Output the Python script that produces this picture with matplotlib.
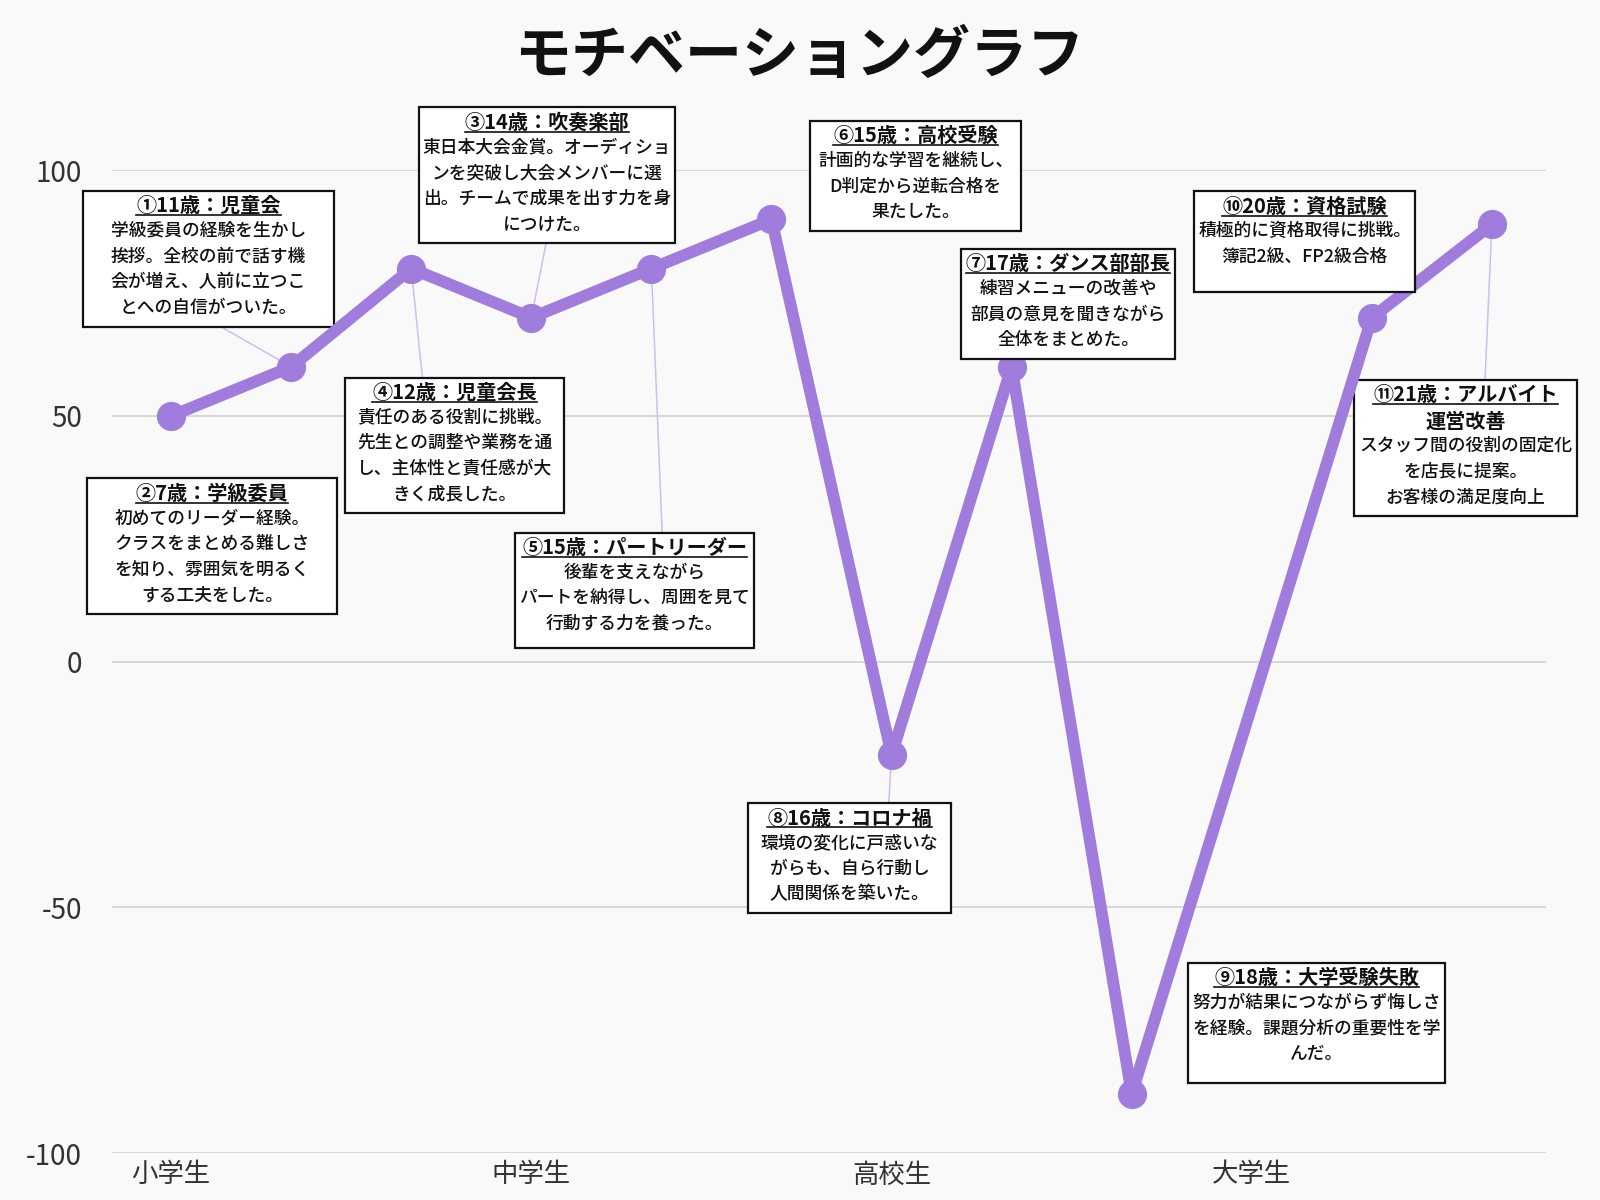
import matplotlib
matplotlib.use("Agg")
import matplotlib.pyplot as plt
from matplotlib.offsetbox import AnnotationBbox, TextArea, VPacker, DrawingArea
from matplotlib.lines import Line2D

plt.rcParams['font.family'] = ['Noto Sans CJK JP', 'DejaVu Sans']

# --- data ---
slots = [0, 1, 2, 3, 4, 5, 6, 7, 8, 10, 11]
motivation = [50, 60, 80, 70, 80, 90, -19, 60, -88, 70, 89]

stage_ticks = [0, 3, 6, 9]
stage_labels = ['小学生', '中学生', '高校生', '大学生']

y_ticks = [-100, -50, 0, 50, 100]

titles = [
    '①11歳：児童会', '②7歳：学級委員', '③14歳：吹奏楽部', '④12歳：児童会長',
    '⑤15歳：パートリーダー', '⑥15歳：高校受験', '⑦17歳：ダンス部部長',
    '⑧16歳：コロナ禍', '⑨18歳：大学受験失敗', '⑩20歳：資格試験',
    '⑪21歳：アルバイト',
]
subtitles = [None] * 10 + ['運営改善']
bodies = [
    '学級委員の経験を生かし\n挨拶。全校の前で話す機\n会が増え、人前に立つこ\nとへの自信がついた。',
    '初めてのリーダー経験。\nクラスをまとめる難しさ\nを知り、雰囲気を明るく\nする工夫をした。',
    '東日本大会金賞。オーディショ\nンを突破し大会メンバーに選\n出。チームで成果を出す力を身\nにつけた。',
    '責任のある役割に挑戦。\n先生との調整や業務を通\nし、主体性と責任感が大\nきく成長した。',
    '後輩を支えながら\nパートを納得し、周囲を見て\n行動する力を養った。',
    '計画的な学習を継続し、\nD判定から逆転合格を\n果たした。',
    '練習メニューの改善や\n部員の意見を聞きながら\n全体をまとめた。',
    '環境の変化に戸惑いな\nがらも、自ら行動し\n人間関係を築いた。',
    '努力が結果につながらず悔しさ\nを経験。課題分析の重要性を学\nんだ。',
    '積極的に資格取得に挑戦。\n簿記2級、FP2級合格',
    'スタッフ間の役割の固定化\nを店長に提案。\nお客様の満足度向上',
]
# which point each note refers to
note_point = [1, 0, 3, 2, 4, 5, 7, 6, 8, 9, 10]

# --- layout of the note boxes (centre in data units, width in px) ---
box_centre = [(0.31, 82), (0.34, 23.5), (3.13, 99), (2.36, 44), (3.86, 14.5),
              (6.2, 98.8), (7.47, 72.8), (5.65, -40), (9.54, -73.5),
              (9.44, 85.5), (10.78, 43.5)]
box_width = [250, 248, 248, 219, 230, 211, 214, 203, 240, 209, 223]
box_extra_h = [0, 0, 0, 0, 6, 0, 0, 0, 10, 16, 0]
# connector start on box edge (relpos); None = no connector
connector = [(0.52, 0), None, (0.5, 0), (0.35, 1), (0.62, 1), None, None,
             (0.70, 1), None, None, (0.59, 1)]

line_color = '#a07cdc'
conn_color = '#cdbdf0'
bg = '#f9f9fa'

fig = plt.figure(figsize=(16, 12), dpi=100, facecolor=bg)
ax = fig.add_axes([0.0702, 0.0391, 0.896, 0.819])
ax.set_facecolor(bg)

ax.plot(slots, motivation, color=line_color, lw=8.5, marker='o', ms=20,
        solid_joinstyle='round', solid_capstyle='round', zorder=3)

ax.set_xlim(-0.49, 11.45)
ax.set_ylim(-100, 100)
ax.set_yticks(y_ticks)
ax.set_yticklabels([str(v) for v in y_ticks], fontsize=20, color='#333333')
ax.set_xticks(stage_ticks)
ax.set_xticklabels(stage_labels, fontsize=19, color='#333333')
ax.tick_params(axis='both', length=0)
ax.tick_params(axis='y', pad=22)
ax.tick_params(axis='x', pad=6)
ax.grid(axis='y', color='#d8d8d8', lw=1.4)
for s in ax.spines.values():
    s.set_visible(False)

fig.text(0.5, 0.953, 'モチベーショングラフ', ha='center', va='center',
         fontsize=41, fontweight='bold', color='#111111')

title_areas = []
scale = 1600 / 1568
for i in range(len(titles)):
    t_area = TextArea(titles[i], textprops=dict(fontsize=14.5, fontweight='bold', color='#111111'))
    title_areas.append(t_area)
    kids = [t_area]
    if subtitles[i]:
        kids.append(TextArea(subtitles[i], textprops=dict(fontsize=14.5, fontweight='bold', color='#111111')))
    kids.append(TextArea(bodies[i], textprops=dict(fontsize=12.8, color='#111111',
                                                      fontweight='medium',
                                                      ha='center', multialignment='center',
                                                      linespacing=1.55)))
    w_pt = (box_width[i] * scale - 12) * 0.72
    kids.append(DrawingArea(w_pt, box_extra_h[i] * 0.72))
    pack = VPacker(children=kids, align='center', pad=0, sep=4)
    arrow = None
    if connector[i] is not None:
        arrow = dict(arrowstyle='-', color=conn_color, lw=1.1,
                     relpos=connector[i], shrinkA=0, shrinkB=0)
    p = note_point[i]
    ab = AnnotationBbox(pack, (slots[p], motivation[p]), xybox=box_centre[i],
                        xycoords='data', boxcoords='data', box_alignment=(0.5, 0.5),
                        frameon=True, pad=0.45,
                        bboxprops=dict(boxstyle='square', facecolor='white',
                                       edgecolor='#111111', linewidth=1.6),
                        arrowprops=arrow, zorder=4 if arrow is None else 2)
    ab.set_clip_on(False)
    ax.add_artist(ab)

# underline the note titles
fig.canvas.draw()
renderer = fig.canvas.get_renderer()
for t_area in title_areas:
    bb = t_area._text.get_window_extent(renderer)
    fig.add_artist(Line2D([bb.x0, bb.x1], [bb.y0 + 1, bb.y0 + 1], transform=None,
                          color='#111111', lw=1.2, zorder=10))

fig.savefig('out.png', dpi=100, facecolor=bg)
